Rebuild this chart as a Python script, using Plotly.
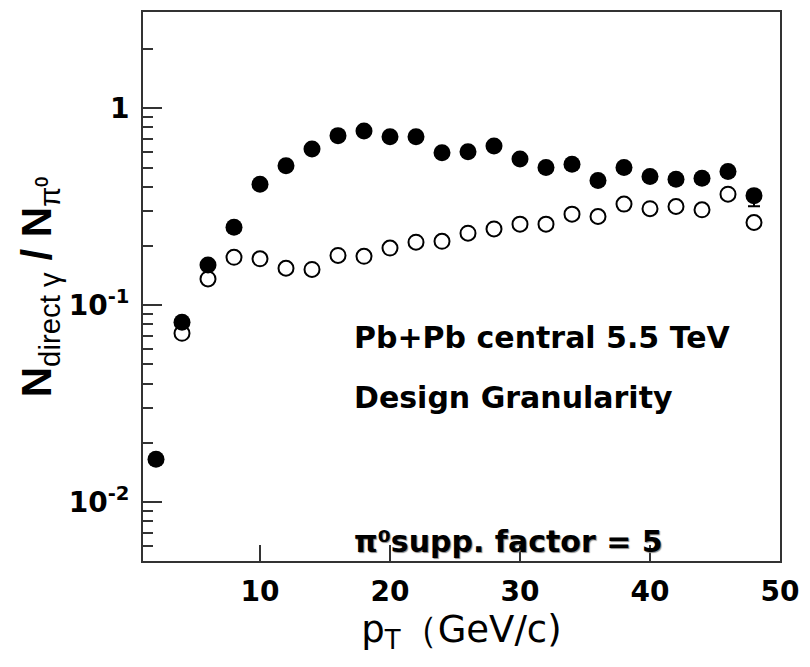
import plotly.graph_objects as go

# ---- data ----
pt_filled = [2, 4, 6, 8, 10, 12, 14, 16, 18, 20, 22, 24, 26, 28, 30, 32, 34, 36, 38, 40, 42, 44, 46, 48]
ratio_filled = [0.0165, 0.082, 0.160, 0.249, 0.411, 0.511, 0.621, 0.726, 0.766, 0.717, 0.717, 0.595,
                0.602, 0.643, 0.553, 0.500, 0.519, 0.430, 0.500, 0.450, 0.436, 0.441, 0.477, 0.360]
err_minus_filled = [0, 0, 0, 0, 0, 0, 0, 0, 0, 0, 0, 0, 0, 0, 0, 0, 0, 0, 0, 0, 0, 0, 0, 0.042]

pt_open = [4, 6, 8, 10, 12, 14, 16, 18, 20, 22, 24, 26, 28, 30, 32, 34, 36, 38, 40, 42, 44, 46, 48]
ratio_open = [0.072, 0.136, 0.175, 0.172, 0.154, 0.152, 0.179, 0.177, 0.195, 0.209, 0.211, 0.232,
              0.244, 0.258, 0.258, 0.290, 0.282, 0.326, 0.309, 0.317, 0.305, 0.366, 0.263]

x_tickvals = [10, 20, 30, 40, 50]
x_ticktext = ["10", "20", "30", "40", "50"]
y_tickvals = [0.01, 0.1, 1]
y_ticktext = ["10<sup>-2</sup>", "10<sup>-1</sup>", "1"]
y_minor = [0.006, 0.007, 0.008, 0.009,
           0.02, 0.03, 0.04, 0.05, 0.06, 0.07, 0.08, 0.09,
           0.2, 0.3, 0.4, 0.5, 0.6, 0.7, 0.8, 0.9, 2]

AX = "#333333"
TICKFONT = dict(family="DejaVu Sans", size=28, color="black", weight="bold")

fig = go.Figure()
fig.add_trace(go.Scatter(
    x=pt_open, y=ratio_open, mode="markers",
    marker=dict(symbol="circle-open", size=15, color="black", line=dict(width=2, color="black")),
    showlegend=False))
fig.add_trace(go.Scatter(
    x=pt_filled, y=ratio_filled, mode="markers",
    marker=dict(symbol="circle", size=17, color="black"),
    error_y=dict(type="data", symmetric=False, array=[0] * len(err_minus_filled),
                 arrayminus=err_minus_filled, color="black", thickness=2, width=6),
    showlegend=False))

fig.update_layout(
    width=810, height=667,
    margin=dict(l=143, r=30, t=10, b=106),
    paper_bgcolor="white", plot_bgcolor="white",
    xaxis=dict(range=[1, 50], showgrid=False, zeroline=False,
               showline=True, linecolor=AX, linewidth=2, mirror=True,
               ticks="inside", ticklen=16, tickwidth=2, tickcolor=AX,
               tickmode="array", tickvals=x_tickvals, ticktext=x_ticktext,
               tickfont=TICKFONT, ticklabelstandoff=4,
               title=dict(text="p<sub>T</sub>（GeV/c)",
                          font=dict(family="DejaVu Sans", size=37, color="black"),
                          standoff=6)),
    yaxis=dict(type="log", range=[-2.2987, 0.4886], showgrid=False, zeroline=False,
               showline=True, linecolor=AX, linewidth=2, mirror=True,
               ticks="inside", ticklen=19, tickwidth=2, tickcolor=AX,
               tickmode="array", tickvals=y_tickvals, ticktext=y_ticktext,
               tickfont=TICKFONT, ticklabelstandoff=6,
               minor=dict(ticks="inside", ticklen=10, tickwidth=2, tickcolor=AX,
                          tickmode="array", tickvals=y_minor, showgrid=False)),
)

fig.add_annotation(
    text="<b>N</b><sub>direct γ</sub><b> / N</b><sub>π⁰</sub>",
    xref="paper", yref="paper", x=-0.162, y=0.5, xanchor="center", yanchor="middle",
    textangle=-90, showarrow=False,
    font=dict(family="Liberation Sans", size=42, color="black"))

TXT = dict(family="DejaVu Sans", size=30, color="black", weight="bold")
fig.add_annotation(text="Pb+Pb central 5.5 TeV", xref="paper", yref="paper",
                   x=0.328, y=0.408, xanchor="left", yanchor="middle", showarrow=False, font=TXT)
fig.add_annotation(text="Design Granularity", xref="paper", yref="paper",
                   x=0.328, y=0.298, xanchor="left", yanchor="middle", showarrow=False, font=TXT)
fig.add_annotation(text="π⁰supp. factor = 5", xref="paper", yref="paper",
                   x=0.328, y=0.036, xanchor="left", yanchor="middle", showarrow=False,
                   font=dict(family="DejaVu Sans", size=30, color="black", weight="bold",
                             shadow="1px 1px 1px #888888"))

fig.write_html("out.html")
